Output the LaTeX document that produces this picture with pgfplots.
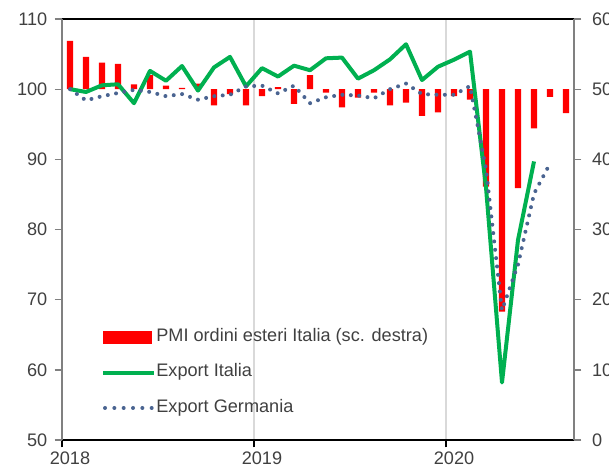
\documentclass[border=0pt]{standalone}
\usepackage{pgfplots}
\pgfplotsset{compat=1.18}
\usepackage{pgfplotstable}
\usepackage{fontspec}
\setmainfont{Liberation Sans}
\definecolor{txt}{HTML}{404040}
\definecolor{ita}{HTML}{00B050}
\definecolor{ger}{HTML}{4A6491}
\definecolor{axgray}{HTML}{808080}
\definecolor{gridc}{HTML}{D9D9D9}
\definecolor{pmired}{HTML}{FF0000}

\pgfplotstableread{
x pmi ita ger
0.5 56.9 100.0 100.0
1.5 54.6 99.6 98.4
2.5 53.8 100.55 99.0
3.5 53.6 100.7 99.45
4.5 50.7 98.0 99.9
5.5 52.0 102.6 99.6
6.5 50.5 101.2 99.0
7.5 50.2 103.3 99.3
8.5 50.8 99.8 98.5
9.5 47.7 103.1 99.0
10.5 49.3 104.6 99.2
11.5 47.7 100.4 100.4
12.5 49.0 103.0 100.5
13.5 50.3 101.8 99.4
14.5 47.9 103.35 100.5
15.5 52.0 102.7 98.0
16.5 49.5 104.4 98.85
17.5 47.4 104.5 99.2
18.5 48.8 101.5 99.1
19.5 49.5 102.7 98.7
20.5 47.7 104.25 100.0
21.5 48.1 106.4 100.8
22.5 46.2 101.3 99.3
23.5 46.7 103.2 99.2
24.5 49.0 104.2 99.2
25.5 48.5 105.35 100.45
26.5 36.1 86.0 88.6
27.5 18.3 58.2 68.5
28.5 35.9 78.5 75.0
29.5 44.4 89.7 85.1
30.5 48.9 nan 89.4
31.5 46.6 nan nan
}\data

\pgfplotsset{
  common/.style={
    scale only axis, width=384pt, height=315.75pt,
    xmin=0, xmax=32,
    tick align=outside, major tick length=5.5pt,
    ticklabel style={font=\fontsize{13.6}{15}\selectfont, text=txt},
    /pgf/number format/assume math mode=true,
  },
  pmiimg/.style={legend image code/.code={\fill[pmired] (0pt,-4.4pt) rectangle (36pt,4.4pt);}},
  itaimg/.style={legend image code/.code={\draw[ita, line width=3pt] (0pt,0pt) -- (38pt,0pt);}},
  gerimg/.style={legend image code/.code={\draw[ger, line width=3pt, line cap=round, dash pattern=on 0pt off 7pt] (1.5pt,0pt) -- (36.6pt,0pt);}},
}

\begin{document}
\begin{tikzpicture}
\begin{axis}[common,
  ymin=-50, ymax=10,
  axis x line=none, axis y line*=right,
  y axis line style={axgray, line width=1pt},
  ytick={-50,-40,...,10}, yticklabels={0,10,20,30,40,50,60},
  y tick style={axgray, line width=1pt},
  yticklabel style={xshift=4.5pt},
]
\addplot[ybar, bar width=4.7pt, fill=pmired, draw=none] table[x=x, y expr=\thisrow{pmi}-50]{\data};
\end{axis}

\begin{axis}[common,
  ymin=50, ymax=110,
  separate axis lines,
  x axis line style={black, line width=1pt},
  y axis line style={axgray, line width=1pt},
  xtick={0,12,24}, xticklabels={2018,2019,2020}, xtick pos=bottom,
  ytick={50,60,...,110}, ytick pos=left,
  xmajorgrids, major x grid style={gridc, line width=1pt},
  x tick style={black, line width=1pt},
  y tick style={axgray, line width=1pt},
  xticklabel style={xshift=6pt},
  yticklabel style={xshift=-2pt},
  legend cell align=left,
  legend style={draw=none, fill=none, at={(0.0762,0.2637)}, anchor=north west,
    inner sep=0pt, outer sep=0pt, row sep=14pt, column sep=0.5pt,
    font=\fontsize{13.6}{15}\selectfont, text=txt,
    nodes={inner sep=0pt, text height=9.5pt, text depth=3pt}},
]
\addlegendimage{pmiimg}
\addlegendentry{PMI ordini esteri Italia (sc. destra)}
\addplot[ita, line width=3pt, line join=round, itaimg] table[x=x, y=ita]{\data};
\addlegendentry{Export Italia}
\addplot[ger, line width=3pt, line cap=round, dash pattern=on 0pt off 6.3pt, gerimg] table[x=x, y=ger]{\data};
\addlegendentry{Export Germania}
\end{axis}
\pgfresetboundingbox
\useasboundingbox (-46.5pt,-24pt) rectangle (410.25pt,330pt);
\end{tikzpicture}
\end{document}
